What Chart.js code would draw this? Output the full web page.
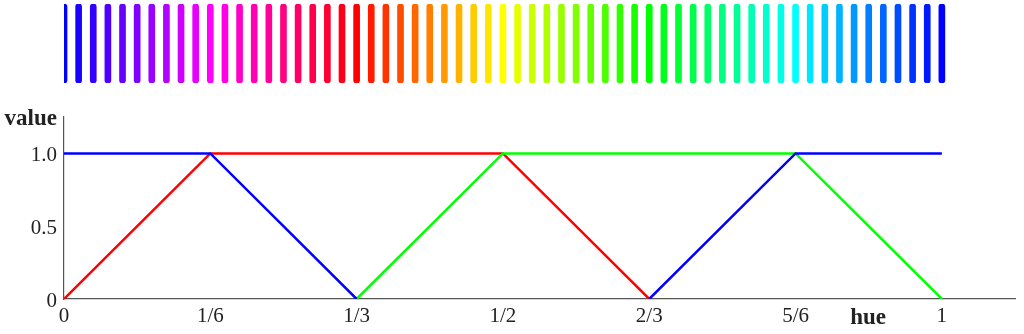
<!DOCTYPE html>
<html>
<head>
<meta charset="utf-8">
<script src="https://cdn.jsdelivr.net/npm/chart.js@4/dist/chart.umd.min.js"></script>
<style>
  html, body { margin: 0; padding: 0; background: #fff; }
  canvas { display: block; }
</style>
</head>
<body>
<canvas id="stripChart" width="1024" height="90"></canvas>
<canvas id="hueChart" width="1024" height="244"></canvas>
<script>
// hue breakpoints and the three channel curves (null = not drawn, the
// zero stretches lie under the axis in the original)
const huePoints = [0, 1/6, 1/3, 1/2, 2/3, 5/6, 1];
const redValues = [0, 1, 1, 1, 0, null, null];
const greenValues = [null, null, 0, 1, 1, 1, 0];
const blueValues = [1, 1, 0, null, 0, 1, 1];

// colour strip on top: one stick per 1/60 of hue
const stripHues = [
  0, 1/60, 2/60, 3/60, 4/60, 5/60, 6/60, 7/60, 8/60, 9/60,
  10/60, 11/60, 12/60, 13/60, 14/60, 15/60, 16/60, 17/60, 18/60, 19/60,
  20/60, 21/60, 22/60, 23/60, 24/60, 25/60, 26/60, 27/60, 28/60, 29/60,
  30/60, 31/60, 32/60, 33/60, 34/60, 35/60, 36/60, 37/60, 38/60, 39/60,
  40/60, 41/60, 42/60, 43/60, 44/60, 45/60, 46/60, 47/60, 48/60, 49/60,
  50/60, 51/60, 52/60, 53/60, 54/60, 55/60, 56/60, 57/60, 58/60, 59/60, 1
];
const stripColors = [
  '#0000ff', '#1a00ff', '#3300ff', '#4d00ff', '#6600ff', '#8000ff', '#9900ff', '#b300ff', '#cc00ff', '#e600ff',
  '#ff00ff', '#ff00e6', '#ff00cc', '#ff00b3', '#ff0099', '#ff0080', '#ff0066', '#ff004d', '#ff0033', '#ff001a',
  '#ff0000', '#ff1a00', '#ff3300', '#ff4d00', '#ff6600', '#ff8000', '#ff9900', '#ffb300', '#ffcc00', '#ffe600',
  '#ffff00', '#e6ff00', '#ccff00', '#b3ff00', '#99ff00', '#80ff00', '#66ff00', '#4dff00', '#33ff00', '#1aff00',
  '#00ff00', '#00ff1a', '#00ff33', '#00ff4d', '#00ff66', '#00ff80', '#00ff99', '#00ffb3', '#00ffcc', '#00ffe6',
  '#00ffff', '#00e6ff', '#00ccff', '#00b3ff', '#0099ff', '#0080ff', '#0066ff', '#004dff', '#0033ff', '#001aff',
  '#0000ff'
];

// axis ticks (the axis names sit in the tick rows)
const xTickValues = [0, 1/6, 1/3, 1/2, 2/3, 5/6, 0.916, 1];
const xTickLabels = ['0', '1/6', '1/3', '1/2', '2/3', '5/6', 'hue', '1'];
const yTickValues = [0, 0.5, 1, 1.25];
const yTickLabels = ['0', '0.5', '1.0', 'value'];

const xMax = 1.0833;
const yMax = 1.25;
const fontFamily = '"Liberation Serif", "DejaVu Serif", serif';
const textColor = '#222';
const axisColor = '#555';

// top strip of coloured sticks
new Chart(document.getElementById('stripChart').getContext('2d'), {
  type: 'bar',
  data: {
    datasets: [{
      data: stripHues.map(h => ({ x: h, y: [0, 1] })),
      backgroundColor: stripColors,
      barThickness: 6,
      borderRadius: 3,
      borderSkipped: false
    }]
  },
  options: {
    responsive: false,
    animation: false,
    devicePixelRatio: 1,
    layout: { padding: { left: 64, right: 9, top: 4, bottom: 7 } },
    plugins: { legend: { display: false }, tooltip: { enabled: false } },
    scales: {
      x: { type: 'linear', min: 0, max: xMax, offset: false, display: false },
      y: { min: 0, max: 1, display: false }
    }
  }
});

// channel curves
const lineStyle = { pointRadius: 0, borderWidth: 2.5, tension: 0, fill: false, spanGaps: false };

new Chart(document.getElementById('hueChart').getContext('2d'), {
  type: 'line',
  data: {
    datasets: [
      { ...lineStyle, label: 'blue', data: huePoints.map((h, i) => ({ x: h, y: blueValues[i] })), borderColor: '#0000ff' },
      { ...lineStyle, label: 'green', data: huePoints.map((h, i) => ({ x: h, y: greenValues[i] })), borderColor: '#00ff00' },
      { ...lineStyle, label: 'red', data: huePoints.map((h, i) => ({ x: h, y: redValues[i] })), borderColor: '#ff0000' }
    ]
  },
  options: {
    responsive: false,
    animation: false,
    devicePixelRatio: 1,
    layout: { padding: { left: 0, right: 9, top: 27, bottom: 0 } },
    plugins: { legend: { display: false }, tooltip: { enabled: false } },
    scales: {
      x: {
        type: 'linear',
        min: 0,
        max: xMax,
        grid: { display: false, drawTicks: false },
        border: { display: true, color: axisColor, width: 1.2 },
        afterBuildTicks: scale => { scale.ticks = xTickValues.map(v => ({ value: v })); },
        afterFit: scale => { scale.height = 35; },
        ticks: {
          autoSkip: false,
          maxRotation: 0,
          minRotation: 0,
          padding: 5,
          color: textColor,
          font: ctx => ({
            family: fontFamily,
            size: xTickLabels[ctx.index] === 'hue' ? 23 : 21,
            weight: xTickLabels[ctx.index] === 'hue' ? 'bold' : 'normal'
          }),
          callback: (value, index) => xTickLabels[index]
        }
      },
      y: {
        min: 0,
        max: yMax,
        grid: { display: false, drawTicks: false },
        border: { display: true, color: axisColor, width: 1.2 },
        afterBuildTicks: scale => { scale.ticks = yTickValues.map(v => ({ value: v })); },
        afterFit: scale => { scale.width = 64; },
        ticks: {
          padding: 7,
          labelOffset: 2.5,
          color: textColor,
          font: ctx => ({
            family: fontFamily,
            size: yTickLabels[ctx.index] === 'value' ? 23 : 21,
            weight: yTickLabels[ctx.index] === 'value' ? 'bold' : 'normal'
          }),
          callback: (value, index) => yTickLabels[index]
        }
      }
    }
  }
});
</script>
</body>
</html>
